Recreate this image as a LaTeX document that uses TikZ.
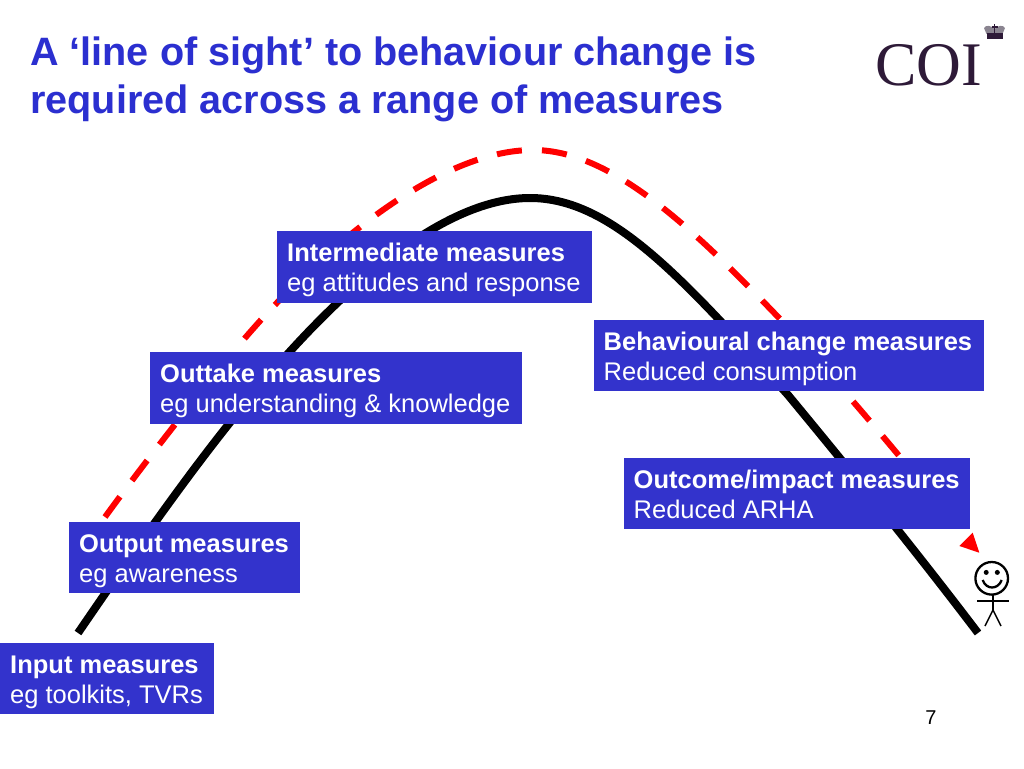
\documentclass[tikz,border=0pt]{standalone}
\usepackage{fontspec}
\setmainfont{Liberation Sans}
\newfontfamily\serifcoi{Liberation Serif}
\usetikzlibrary{calc}
\definecolor{titleblue}{HTML}{2B2FD0}
\definecolor{boxblue}{HTML}{3333CC}
\definecolor{coidark}{HTML}{2E1A38}
\definecolor{crowngrey}{HTML}{8A8490}
\tikzset{
  titletext/.style={anchor=north west,align=left,inner sep=0pt,text=titleblue,font=\fontsize{39.6}{48}\selectfont\bfseries},
  hill/.style={line width=8pt,black},
  sight/.style={line width=6pt,red,dash pattern=on 25.2pt off 20.1pt},
  stick/.style={line width=1.5pt,black},
  stickhead/.style={line width=2.3pt,black}
}
\newcommand{\measurebox}[7]{%
  \fill[boxblue] (#2,#3) rectangle (#4,#5);
  \node[anchor=base west,text=white,inner sep=0pt,font=\fontsize{25.5}{30}\selectfont\bfseries] (#1a) at ($(#2,#3)+(10,30)$) {#6};
  \node[anchor=base west,text=white,inner sep=0pt,font=\fontsize{25.5}{30}\selectfont] (#1b) at ($(#2,#3)+(10,60.5)$) {#7};
}
\begin{document}
\begin{tikzpicture}[x=1pt,y=-1pt]
\useasboundingbox (0,0) rectangle (1024,768);
\fill[white] (0,0) rectangle (1024,768);
% title
\node[titletext] (title) at (30,37) {A ‘line of sight’ to behaviour change is\\required across a range of measures};
% logo
\node[anchor=base west,inner sep=0pt,text=coidark,font=\fontsize{62}{62}\selectfont\serifcoi] (coi) at (875,85.5) {COI};
\fill[crowngrey] (986.5,34) -- (984,28) .. controls (986,24.5) and (991,25.5) .. (994.5,29) .. controls (998,25.5) and (1003,24.5) .. (1005,28) -- (1002.5,34) -- cycle;
\fill[coidark] (986.5,33) rectangle (1002.5,39);
\fill[coidark] (993.8,24) rectangle (995.2,36);
\fill[coidark] (991.5,26.5) rectangle (997.5,27.7);
% hill
\draw[hill] (78,633) .. controls (128,560) and (178,488) .. (228,425)
  .. controls (330,295) and (440,198) .. (530,198)
  .. controls (610,198) and (680,275) .. (788,395)
  .. controls (850,470) and (915,550) .. (978,633);
% line of sight
\draw[sight] (105,517) .. controls (148,458) and (195,398) .. (245,338)
  .. controls (325,245) and (440,150) .. (533,150)
  .. controls (610,150) and (690,225) .. (780,319)
  .. controls (840,385) and (900,455) .. (955,525);
\fill[red] (972.7,532.7) -- (959.3,546) -- (979.3,552.7) -- cycle;
% boxes
\measurebox{input}{0}{643}{214}{714}{Input measures}{eg toolkits, TVRs}
\measurebox{output}{69}{522}{300}{593}{Output measures}{eg awareness}
\measurebox{outtake}{150}{352}{522}{424}{Outtake measures}{eg understanding \& knowledge}
\measurebox{inter}{277}{231}{592}{303}{Intermediate measures}{eg attitudes and response}
\measurebox{behav}{593.5}{320}{984}{391}{Behavioural change measures}{Reduced consumption}
\measurebox{outcome}{623.5}{458}{970}{529}{Outcome/impact measures}{Reduced ARHA}
% person
\draw[stickhead] (991.7,578.3) circle (16.3);
\fill (986.2,572.4) circle (2.5);
\fill (997.3,572.4) circle (2.5);
\draw[stickhead] (982.7,580) .. controls (986,590) and (998,590) .. (1001.7,580);
\draw[stick] (993,595) -- (993,611);
\draw[stick] (977,601) -- (1009,601);
\draw[stick] (993,610) -- (985,626);
\draw[stick] (993,610) -- (1001,626);
% page number
\node[anchor=base,inner sep=0pt,font=\fontsize{20}{24}\selectfont] (pagenum) at (931,724) {7};
\end{tikzpicture}
\end{document}
